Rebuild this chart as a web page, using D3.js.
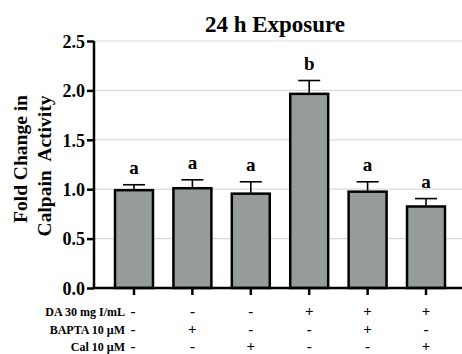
<!DOCTYPE html>
<html>
<head>
<meta charset="utf-8">
<script src="https://cdn.jsdelivr.net/npm/d3@7"></script>
<style>
  body { margin: 0; background: #fff; }
  svg { display: block; font-family: "Liberation Serif", "Times New Roman", serif; font-weight: bold; }
</style>
</head>
<body>
<div id="main"></div>
<script>
// data
const groups = ["g1", "g2", "g3", "g4", "g5", "g6"];
const means = [0.99, 1.01, 0.955, 1.965, 0.975, 0.825];
const errTops = [1.045, 1.095, 1.075, 2.10, 1.075, 0.905];
const sigLetters = ["a", "a", "a", "b", "a", "a"];
const yTicks = [0, 0.5, 1.0, 1.5, 2.0, 2.5];
const rowLabels = ["DA 30 mg I/mL", "BAPTA 10 \u00b5M", "Cal 10 \u00b5M"];
const rowDA = ["-", "-", "-", "+", "+", "+"];
const rowBAPTA = ["-", "+", "-", "-", "+", "-"];
const rowCal = ["-", "-", "+", "-", "-", "+"];

const W = 462, H = 354;
const plot = { left: 94, right: 462, top: 41, bottom: 288 };

const svg = d3.select("#main").append("svg")
  .attr("width", W).attr("height", H);

const x = d3.scaleBand().domain(groups)
  .range([104.8, 455.2]).paddingInner(0.35).paddingOuter(0.175);
const y = d3.scaleLinear().domain([0, 2.5]).range([plot.bottom, plot.top]);

// gridlines
svg.append("g").selectAll("line").data(yTicks.filter(d => d > 0)).enter()
  .append("line")
  .attr("x1", plot.left).attr("x2", plot.right)
  .attr("y1", d => y(d)).attr("y2", d => y(d))
  .attr("stroke", "#d9d9d9").attr("stroke-width", 1.2);

// bars
svg.append("g").selectAll("rect").data(groups).enter()
  .append("rect")
  .attr("x", d => x(d))
  .attr("width", x.bandwidth())
  .attr("y", (d, i) => y(means[i]))
  .attr("height", (d, i) => y(0) - y(means[i]))
  .attr("fill", "#969c9a")
  .attr("stroke", "#000").attr("stroke-width", 2.5);

// error bars
const eb = svg.append("g").attr("stroke", "#000").attr("stroke-width", 1.6);
groups.forEach((g, i) => {
  const cx = x(g) + x.bandwidth() / 2;
  eb.append("line").attr("x1", cx).attr("x2", cx)
    .attr("y1", y(means[i]) - 1).attr("y2", y(errTops[i]));
  eb.append("line").attr("x1", cx - 11).attr("x2", cx + 11)
    .attr("y1", y(errTops[i])).attr("y2", y(errTops[i]));
});

// significance letters
svg.append("g").selectAll("text").data(groups).enter()
  .append("text")
  .attr("x", d => x(d) + x.bandwidth() / 2)
  .attr("y", (d, i) => y(errTops[i]) - 11)
  .attr("text-anchor", "middle")
  .attr("font-size", 19)
  .text((d, i) => sigLetters[i]);

// y axis
const yAxis = svg.append("g")
  .attr("transform", `translate(${plot.left},0)`)
  .call(d3.axisLeft(y).tickValues(yTicks).tickFormat(d3.format(".1f")).tickSize(7).tickPadding(2));
yAxis.select(".domain").attr("stroke-width", 2.5).attr("d", `M0,${plot.bottom}V${plot.top}`);
yAxis.selectAll(".tick line").attr("stroke-width", 2.5);
yAxis.selectAll("text").attr("font-size", 18).attr("font-family", "Liberation Serif")
  .attr("font-weight", "bold").attr("fill", "#000").attr("dy", "0.35em");

// x axis
const xAxis = svg.append("g")
  .attr("transform", `translate(0,${plot.bottom})`)
  .call(d3.axisBottom(x).tickSize(7).tickFormat(""));
xAxis.select(".domain").attr("stroke-width", 2.5).attr("d", `M${plot.left},0H${plot.right}`);
xAxis.selectAll(".tick line").attr("stroke-width", 2.5);

// title
svg.append("text")
  .attr("x", 275).attr("y", 32)
  .attr("text-anchor", "middle")
  .attr("font-size", 23)
  .text("24 h Exposure");

// y label
svg.append("text")
  .attr("transform", "translate(27,159) rotate(-90)")
  .attr("text-anchor", "middle")
  .attr("font-size", 19.5)
  .text("Fold Change in");
svg.append("text")
  .attr("transform", "translate(51,166) rotate(-90)")
  .attr("text-anchor", "middle")
  .attr("font-size", 19.5)
  .attr("xml:space", "preserve")
  .text("Calpain  Activity");

// treatment table
const rows = [rowDA, rowBAPTA, rowCal];
const rowY = [316, 334, 351];
rows.forEach((row, r) => {
  svg.append("text")
    .attr("x", 125).attr("y", rowY[r])
    .attr("text-anchor", "end")
    .attr("font-size", 12)
    .text(rowLabels[r]);
  svg.append("g").selectAll("text").data(groups).enter()
    .append("text")
    .attr("x", (d, i) => x(d) + x.bandwidth() / 2 + (i === 0 ? -1 : 0))
    .attr("y", rowY[r])
    .attr("text-anchor", "middle")
    .attr("font-size", 15)
    .text((d, i) => row[i]);
});
</script>
</body>
</html>
